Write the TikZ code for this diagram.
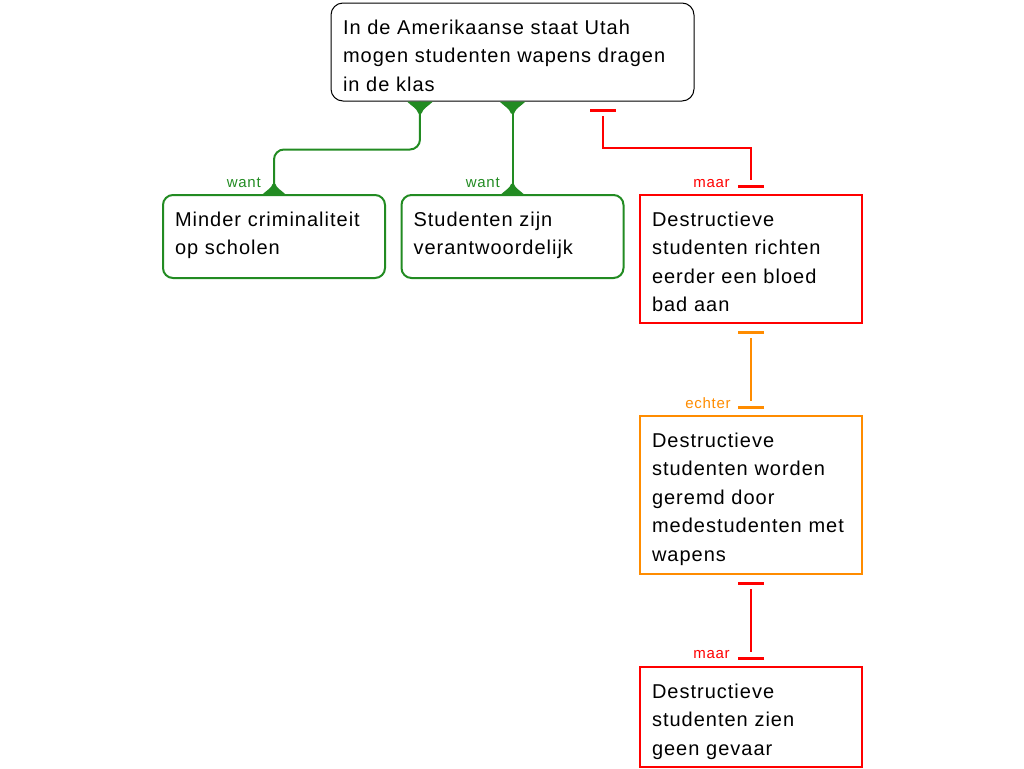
\documentclass[tikz,border=0pt]{standalone}
\usepackage{fontspec}
\setmainfont{Liberation Sans}[LetterSpace=5]
\usetikzlibrary{arrows.meta}
\definecolor{wantgreen}{RGB}{34,139,34}
\definecolor{maarred}{RGB}{255,0,0}
\definecolor{echterorange}{RGB}{255,140,0}
% bar that stands a little away from the end of the line
\pgfdeclarearrow{
  name=Gap Bar,
  parameters={\the\pgfarrowlength,\the\pgfarrowwidth},
  setup code={
    \pgfarrowssettipend{0pt}
    \pgfarrowssetlineend{-\pgfarrowlength}
    \pgfarrowssetbackend{-\pgfarrowlength}
    \pgfarrowshullpoint{0pt}{.5\pgfarrowwidth}
    \pgfarrowshullpoint{0pt}{-.5\pgfarrowwidth}
    \pgfarrowshullpoint{-\pgfarrowlength}{0pt}
  },
  drawing code={
    \pgfsetdash{}{0pt}
    \pgfsetbuttcap
    \pgfsetlinewidth{2.25pt}
    \pgfpathmoveto{\pgfpoint{0pt}{.5\pgfarrowwidth}}
    \pgfpathlineto{\pgfpoint{0pt}{-.5\pgfarrowwidth}}
    \pgfusepathqstroke
  },
  defaults={length=4.5pt,width=19.5pt}
}
\tikzset{
  box/.style={draw, line width=1.5pt, align=left, inner xsep=9pt, inner ysep=0pt,
    text width=148.5pt, minimum width=166.5pt, text height=23.25pt,
    font=\fontsize{15pt}{21.4pt}\selectfont},
  lbl/.style={font=\fontsize{11.25pt}{12pt}\selectfont, anchor=base east, inner sep=0pt},
  want/.style={draw=wantgreen, line width=1.5pt, rounded corners=7.5pt},
  maar/.style={draw=maarred, line width=1.5pt, {Gap Bar}-{Gap Bar}},
  echter/.style={draw=echterorange, line width=1.5pt, {Gap Bar}-{Gap Bar}},
  flare/.pic={\fill[wantgreen] (-13,0) .. controls (-9,4) and (-3,7) .. (-1.5,12) -- (1.5,12) .. controls (3,7) and (9,4) .. (13,0) -- cycle;}
}
\begin{document}
\begin{tikzpicture}[x=0.75pt,y=-0.75pt]
\useasboundingbox (0,0) rectangle (1024,768);
\node[box, draw=black, line width=0.75pt, rounded corners=9pt, text width=254.25pt, minimum height=73.5pt, text depth=50.25pt] (t) at (512.5,52) {In de Amerikaanse staat Utah\\mogen studenten wapens dragen\\in de klas};
\node[box, draw=wantgreen, rounded corners=7.5pt, minimum height=62.25pt, text depth=39pt] (c) at (274,236.5) {Minder criminaliteit\\op scholen};
\node[box, draw=wantgreen, rounded corners=7.5pt, minimum height=62.25pt, text depth=39pt] (s) at (512.5,236.5) {Studenten zijn\\verantwoordelijk};
\node[box, draw=maarred, minimum height=96pt, text depth=72.75pt] (r) at (751,259) {Destructieve\\studenten richten\\eerder een bloed\\bad aan};
\node[box, draw=echterorange, minimum height=118.5pt, text depth=95.25pt] (o) at (751,495) {Destructieve\\studenten worden\\geremd door\\medestudenten met\\wapens};
\node[box, draw=maarred, minimum height=75pt, text depth=51.75pt] (g) at (751,717) {Destructieve\\studenten zien\\geen gevaar};
% want
\draw[want] ([xshift=-69.4pt]t.south) -- ++(0,48) -| (c.north);
\draw[want] (t.south) -- (s.north);
\path ([xshift=-69.4pt]t.south) pic {flare};
\path (t.south) pic {flare};
\path (c.north) pic[rotate=180, xscale=0.85, yscale=0.85] {flare};
\path (s.north) pic[rotate=180, xscale=0.85, yscale=0.85] {flare};
\node[lbl, wantgreen] (w1) at (261,187) {want};
\node[lbl, wantgreen] (w2) at (500,187) {want};
% maar / echter
\draw[maar] ([xshift=67.9pt,yshift=-6.5pt]t.south) -- ++(0,38) -| ([yshift=6pt]r.north);
\node[lbl, maarred] (m1) at (730,187) {maar};
\draw[echter] ([yshift=-6pt]r.south) -- ([yshift=6pt]o.north);
\node[lbl, echterorange] (e1) at (731,408) {echter};
\draw[maar] ([yshift=-6pt]o.south) -- ([yshift=6pt]g.north);
\node[lbl, maarred] (m2) at (730,658) {maar};
\end{tikzpicture}
\end{document}
